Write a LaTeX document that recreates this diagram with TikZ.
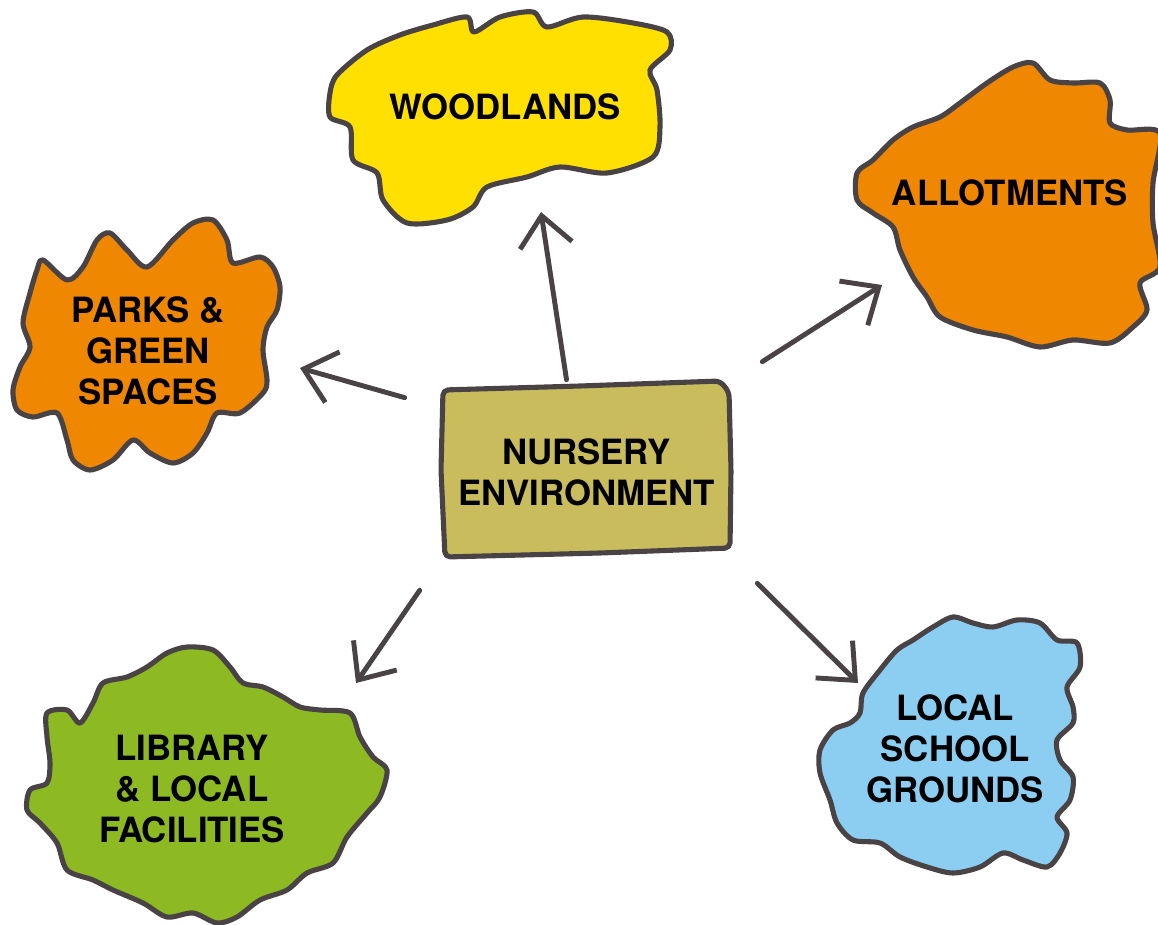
\documentclass[tikz,border=0pt]{standalone}
\usepackage{fontspec}
\setmainfont{TeX Gyre Heros}
\usetikzlibrary{calc,arrows.meta}
\definecolor{ink}{RGB}{74,67,70}
\definecolor{woodyellow}{RGB}{255,224,0}
\definecolor{patchorange}{RGB}{239,135,0}
\definecolor{libgreen}{RGB}{141,185,35}
\definecolor{schoolblue}{RGB}{140,206,242}
\definecolor{nurseryolive}{RGB}{200,188,92}

\begin{document}
\begin{tikzpicture}[x=0.02cm,y=-0.02cm,
  blob/.style={draw=ink,line width=2.9pt,line join=round},
  blobtext/.style={font=\fontsize{19.8}{23.5}\selectfont\bfseries,align=center},
  link/.style={-{Straight Barb[length=0.6cm,width=1.05cm]},draw=ink,line width=2.8pt,line cap=round}]
\useasboundingbox (0,0) rectangle (1158,925);

% blobs
\draw[blob,fill=woodyellow] plot[smooth cycle] coordinates {(337,75) (367,50) (400,35) (433,25) (467,17) (474,32) (500,17) (533,12) (547,27) (583,17) (633,23) (667,32) (670,50) (650,70) (657,90) (660,127) (653,157) (607,173) (560,167) (527,177) (487,187) (473,207) (447,220) (407,223) (383,200) (377,173) (353,160) (350,127) (330,117) (330,93)};
\draw[blob,fill=patchorange] plot[smooth cycle] coordinates {(857,173) (873,160) (893,140) (913,127) (940,117) (960,103) (987,83) (1013,67) (1033,63) (1050,80) (1073,83) (1100,83) (1110,100) (1110,123) (1127,130) (1160,133) (1153,183) (1153,223) (1160,267) (1140,283) (1147,310) (1133,327) (1110,343) (1073,340) (1040,347) (1007,337) (973,330) (940,317) (927,297) (913,277) (900,250) (893,227) (873,213) (857,200)};
\draw[blob,fill=patchorange] plot[smooth cycle] coordinates {(43,260) (67,280) (83,267) (97,240) (110,233) (127,250) (147,267) (173,240) (193,223) (213,220) (227,240) (233,263) (260,257) (273,267) (280,287) (277,310) (267,327) (263,350) (267,380) (263,393) (240,413) (217,413) (207,433) (193,453) (173,463) (150,453) (133,440) (113,460) (90,470) (73,460) (67,440) (57,413) (33,417) (17,410) (13,390) (20,367) (30,347) (23,323) (30,293) (37,270)};
\draw[blob,fill=libgreen] plot[smooth cycle] coordinates {(47,713) (67,710) (80,723) (93,703) (103,683) (127,677) (147,667) (167,653) (187,647) (213,650) (230,667) (243,683) (263,687) (283,697) (300,707) (320,710) (350,713) (360,737) (373,757) (387,770) (380,797) (367,813) (347,837) (333,863) (307,873) (287,890) (260,900) (237,917) (217,923) (193,913) (167,917) (143,903) (113,890) (93,880) (67,870) (57,843) (40,823) (27,810) (30,790) (47,783) (50,763) (47,737)};
\draw[blob,fill=schoolblue] plot[smooth cycle] coordinates {(863,693) (880,670) (897,650) (913,640) (933,627) (953,617) (973,623) (993,627) (1017,620) (1040,623) (1057,640) (1077,643) (1080,667) (1067,687) (1073,707) (1073,723) (1057,740) (1060,760) (1073,777) (1070,800) (1057,817) (1067,833) (1060,853) (1047,867) (1023,860) (1003,853) (980,867) (953,873) (927,867) (900,857) (880,843) (853,840) (837,823) (830,800) (820,773) (820,750) (833,730) (850,723) (860,713)};
\draw[blob,fill=nurseryolive,rounded corners=3pt] (443,390) -- (580,386) -- (720,381) -- (729,392) -- (731,470) -- (730,548) -- (600,553) -- (445,557) -- (441,470) -- cycle;

% labels
\node[blobtext] (wood) at (505,107) {WOODLANDS};
\node[blobtext] (allot) at (1010,193) {ALLOTMENTS};
\node[blobtext] (parks) at (148,351) {PARKS \&\\GREEN\\SPACES};
\node[blobtext,minimum width=5.74cm,minimum height=3.4cm] (nursery) at (586.5,472) {NURSERY\\ENVIRONMENT};
\node[blobtext] (lib) at (192,789) {LIBRARY\\\& LOCAL\\FACILITIES};
\node[blobtext] (school) at (955,749) {LOCAL\\SCHOOL\\GROUNDS};

% arrows
\draw[link] ($(nursery.north)+(-20,-7)$) -- ($(wood)+(36,105)$);
\draw[link] ($(nursery.north east)+(32,-25)$) -- ($(allot)+(-128,92)$);
\draw[link] ($(nursery.north west)+(-38,11)$) -- ($(parks)+(152,17)$);
\draw[link] ($(nursery.south west)+(-23,33)$) -- ($(lib)+(164,-106)$);
\draw[link] ($(nursery.south east)+(27,26)$) -- ($(school)+(-97,-66)$);
\end{tikzpicture}
\end{document}
